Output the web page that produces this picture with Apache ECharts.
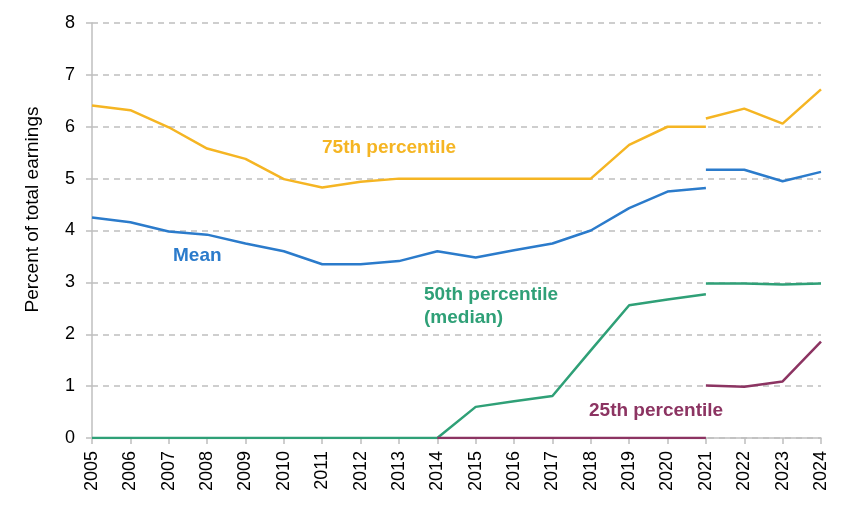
<!DOCTYPE html>
<html>
<head>
<meta charset="utf-8">
<script src="https://cdn.jsdelivr.net/npm/echarts@6/dist/echarts.min.js"></script>
<style>
  html, body { margin: 0; padding: 0; background: #fff; }
  #chart { width: 848px; height: 511px; }
</style>
</head>
<body>
<div id="chart"></div>
<script>
const years = ['2005','2006','2007','2008','2009','2010','2011','2012','2013','2014',
  '2015','2016','2017','2018','2019','2020','2021','2022','2023','2024']

// first segment runs to 2021, second segment (new series basis) from 2021 on
const p75a = [6.41,6.32,5.99,5.58,5.38,4.99,4.83,4.94,5.0,5.0,5.0,5.0,5.0,5.0,5.65,6.0,6.0,null,null,null]
const p75b = [null,null,null,null,null,null,null,null,null,null,null,null,null,null,null,null,6.16,6.35,6.06,6.72]
const meanA = [4.25,4.16,3.98,3.92,3.75,3.6,3.35,3.35,3.41,3.6,3.48,3.62,3.75,4.0,4.43,4.75,4.82,null,null,null]
const meanB = [null,null,null,null,null,null,null,null,null,null,null,null,null,null,null,null,5.17,5.17,4.95,5.13]
const p50a = [0,0,0,0,0,0,0,0,0,0,0.6,0.71,0.81,1.69,2.56,2.67,2.77,null,null,null]
const p50b = [null,null,null,null,null,null,null,null,null,null,null,null,null,null,null,null,2.98,2.98,2.96,2.98]
const p25a = [null,null,null,null,null,null,null,null,null,0,0,0,0,0,0,0,0,null,null,null]
const p25b = [null,null,null,null,null,null,null,null,null,null,null,null,null,null,null,null,1.01,0.99,1.09,1.86]

const yTicks = [0,1,2,3,4,5,6,7,8]

const cYellow = '#F5B523'
const cBlue = '#2B7BCB'
const cGreen = '#2FA077'
const cPurple = '#8C3462'
const gray = '#BFBFBF'
const font = '"Liberation Sans", Arial, sans-serif'

const chart = echarts.init(document.getElementById('chart'))

const line = (data, color) => ({
  type: 'line',
  data: data,
  symbol: 'none',
  connectNulls: false,
  silent: true,
  lineStyle: { color: color, width: 2.5 },
  itemStyle: { color: color }
})

const label = (text, left, top, color) => ({
  type: 'text',
  left: left,
  top: top,
  style: { text: text, fill: color, font: 'bold 19px ' + font, lineHeight: 23 }
})

chart.setOption({
  animation: false,
  backgroundColor: '#fff',
  grid: { left: 92, right: 27, top: 23, bottom: 73 },
  xAxis: {
    type: 'category',
    data: years,
    boundaryGap: false,
    axisLine: { lineStyle: { color: gray, width: 1.5 } },
    axisTick: { show: true, length: 6, lineStyle: { color: gray, width: 1.5 } },
    axisLabel: { rotate: 90, color: '#000', fontSize: 18, fontFamily: font, margin: 13, interval: 0 },
    splitLine: { show: false }
  },
  yAxis: {
    type: 'value',
    min: yTicks[0],
    max: yTicks[yTicks.length - 1],
    interval: 1,
    name: 'Percent of total earnings',
    nameLocation: 'middle',
    nameGap: 50,
    // shift the title a little upward, as in the original
    nameTextStyle: { color: '#000', fontSize: 19, fontFamily: font, padding: [0, 0, 0, 42] },
    axisLine: { show: true, lineStyle: { color: gray, width: 1.5 } },
    axisTick: { show: true, length: 6, lineStyle: { color: gray, width: 1.5 } },
    axisLabel: { color: '#000', fontSize: 18, fontFamily: font, margin: 17 },
    splitLine: { show: true, lineStyle: { color: gray, type: [6, 5], width: 1.5 } }
  },
  series: [
    line(p50a, cGreen),
    line(p50b, cGreen),
    line(p25a, cPurple),
    line(p25b, cPurple),
    line(meanA, cBlue),
    line(meanB, cBlue),
    line(p75a, cYellow),
    line(p75b, cYellow)
  ],
  graphic: [
    label('75th percentile', 322, 136, cYellow),
    label('Mean', 173, 244, cBlue),
    label('50th percentile\n(median)', 424, 283, cGreen),
    label('25th percentile', 589, 399, cPurple)
  ]
})
</script>
</body>
</html>
